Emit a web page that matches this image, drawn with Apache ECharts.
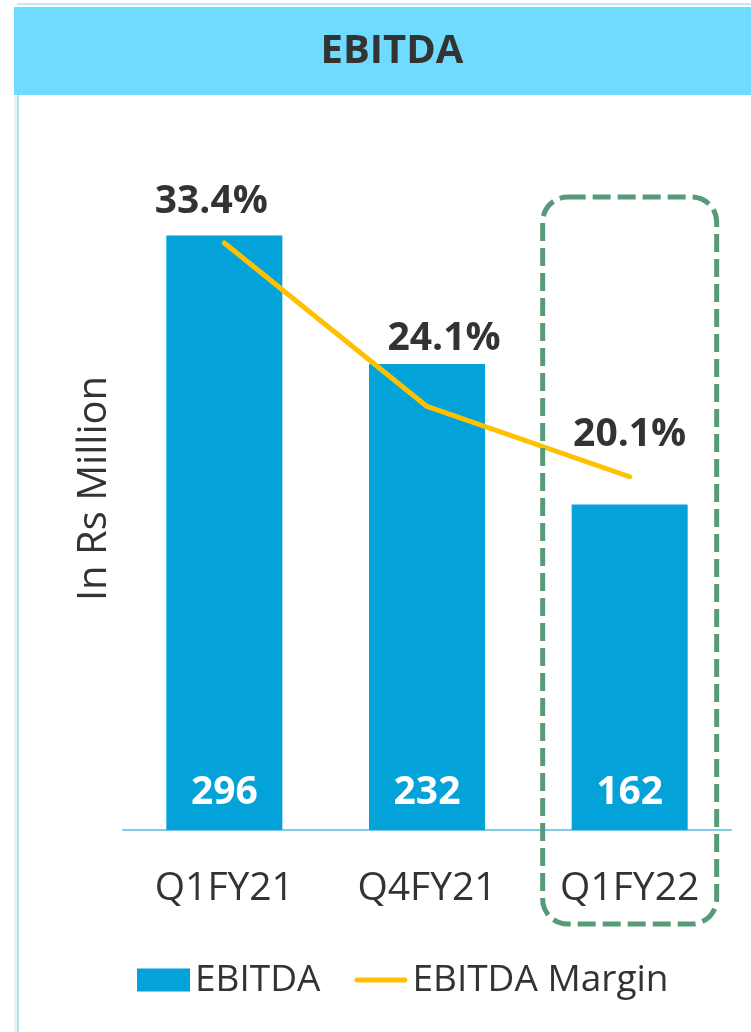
<!DOCTYPE html>
<html>
<head>
<meta charset="utf-8">
<script src="https://cdn.jsdelivr.net/npm/echarts@6/dist/echarts.min.js"></script>
<style>
  html, body { margin: 0; padding: 0; background: #fff; }
  #chart { width: 751px; height: 1032px; }
</style>
</head>
<body>
<div id="chart"></div>
<script>
const titleText = 'EBITDA';
const categories = ['Q1FY21', 'Q4FY21', 'Q1FY22'];
const ebitda = [296, 232, 162];
const margin = [33.4, 24.1, 20.1];
const yAxisName = 'In Rs Million';
const highlightCategory = 'Q1FY22';
// label placement tweaks (px) for margin labels
const marginLabelOffsets = [[-13, -16], [17, -42], [0, -16]];

const FONT = '"Open Sans", "Noto Sans", sans-serif';
const TXT = '#333333';
const LINE_COLOR = '#FFC000';

const chart = echarts.init(document.getElementById('chart'), null, { renderer: 'canvas' });

const option = {
  animation: false,
  textStyle: { fontFamily: FONT },
  grid: { left: 123, right: 20, top: 127, bottom: 202, containLabel: false },
  legend: {
    left: 132, top: 953,
    itemWidth: 53, itemHeight: 23, itemGap: 34,
    symbolKeepAspect: true,
    textStyle: { fontFamily: FONT, fontSize: 37, color: TXT, lineHeight: 44 },
    data: [
      { name: 'EBITDA', icon: 'rect' },
      { name: 'EBITDA Margin',
        icon: 'path://M2.5,0 L52.5,0 A2.5,2.5 0 0 1 52.5,5 L2.5,5 A2.5,2.5 0 0 1 2.5,0 Z',
        itemStyle: { color: LINE_COLOR } }
    ]
  },
  xAxis: {
    type: 'category',
    data: categories,
    axisLine: { lineStyle: { color: '#7FCBE8', width: 2 } },
    axisTick: { show: false },
    axisLabel: { fontFamily: FONT, fontSize: 39, color: TXT, margin: 37, lineHeight: 44 }
  },
  yAxis: [
    {
      type: 'value', min: 0, max: 350,
      name: yAxisName, nameLocation: 'middle', nameRotate: 90, nameGap: 8,
      nameTextStyle: { fontFamily: FONT, fontSize: 40, color: TXT, lineHeight: 40, padding: [0, 20, 0, 0] },
      axisLine: { show: false }, axisTick: { show: false },
      axisLabel: { show: false }, splitLine: { show: false }
    },
    {
      type: 'value', min: 0, max: 40, show: false,
      splitLine: { show: false }
    }
  ],
  series: [
    {
      name: 'EBITDA', type: 'bar', data: ebitda, barWidth: 116,
      itemStyle: { color: '#03A2D8' },
      label: {
        show: true, position: 'insideBottom', distance: 17,
        fontFamily: FONT, fontSize: 39, fontWeight: 'bold', color: '#ffffff', lineHeight: 40
      }
    },
    {
      name: 'EBITDA Margin', type: 'line', yAxisIndex: 1,
      data: margin,
      symbol: 'none',
      lineStyle: { color: LINE_COLOR, width: 5, cap: 'round', join: 'round' },
      itemStyle: { color: LINE_COLOR },
      z: 3
    },
    {
      name: 'marginLabels', type: 'scatter', yAxisIndex: 1,
      data: margin.map((v, i) => ({
        value: [categories[i], v],
        label: { offset: marginLabelOffsets[i] }
      })),
      symbolSize: 1,
      itemStyle: { color: 'rgba(0,0,0,0)', opacity: 1 },
      label: {
        show: true, position: 'top', distance: 5, opacity: 1,
        fontFamily: FONT, fontSize: 39, fontWeight: 'bold', color: TXT, lineHeight: 40,
        formatter: p => p.value[1].toFixed(1) + '%'
      },
      silent: true,
      z: 4
    }
  ]
};
chart.setOption(option);

// decorations: header band, left border, highlight box around last category
const cx = chart.convertToPixel({ xAxisIndex: 0 }, highlightCategory);
chart.setOption({
  graphic: [
    { type: 'rect', shape: { x: 14, y: 96, width: 3, height: 936 }, style: { fill: '#EFEFEF' }, silent: true },
    { type: 'rect', shape: { x: 17, y: 95, width: 2, height: 937 }, style: { fill: '#A9E5F7' }, silent: true },
    { type: 'rect', shape: { x: 17, y: 3, width: 734, height: 2 }, style: { fill: '#B9EEFC' }, silent: true },
    { type: 'rect', shape: { x: 14, y: 7, width: 737, height: 88 }, style: { fill: '#6EDBFF' }, silent: true },
    {
      type: 'text', x: 392, y: 52,
      style: { text: titleText, fontFamily: FONT, fontSize: 40, fontWeight: 'bold', fill: TXT,
               textAlign: 'center', textVerticalAlign: 'middle' },
      silent: true
    },
    {
      type: 'rect', z: 10,
      shape: { x: cx - 87, y: 197, width: 174, height: 727, r: 25 },
      style: { fill: 'none', stroke: '#579A77', lineWidth: 5, lineDash: [18, 7] },
      silent: true
    }
  ]
});
</script>
</body>
</html>
